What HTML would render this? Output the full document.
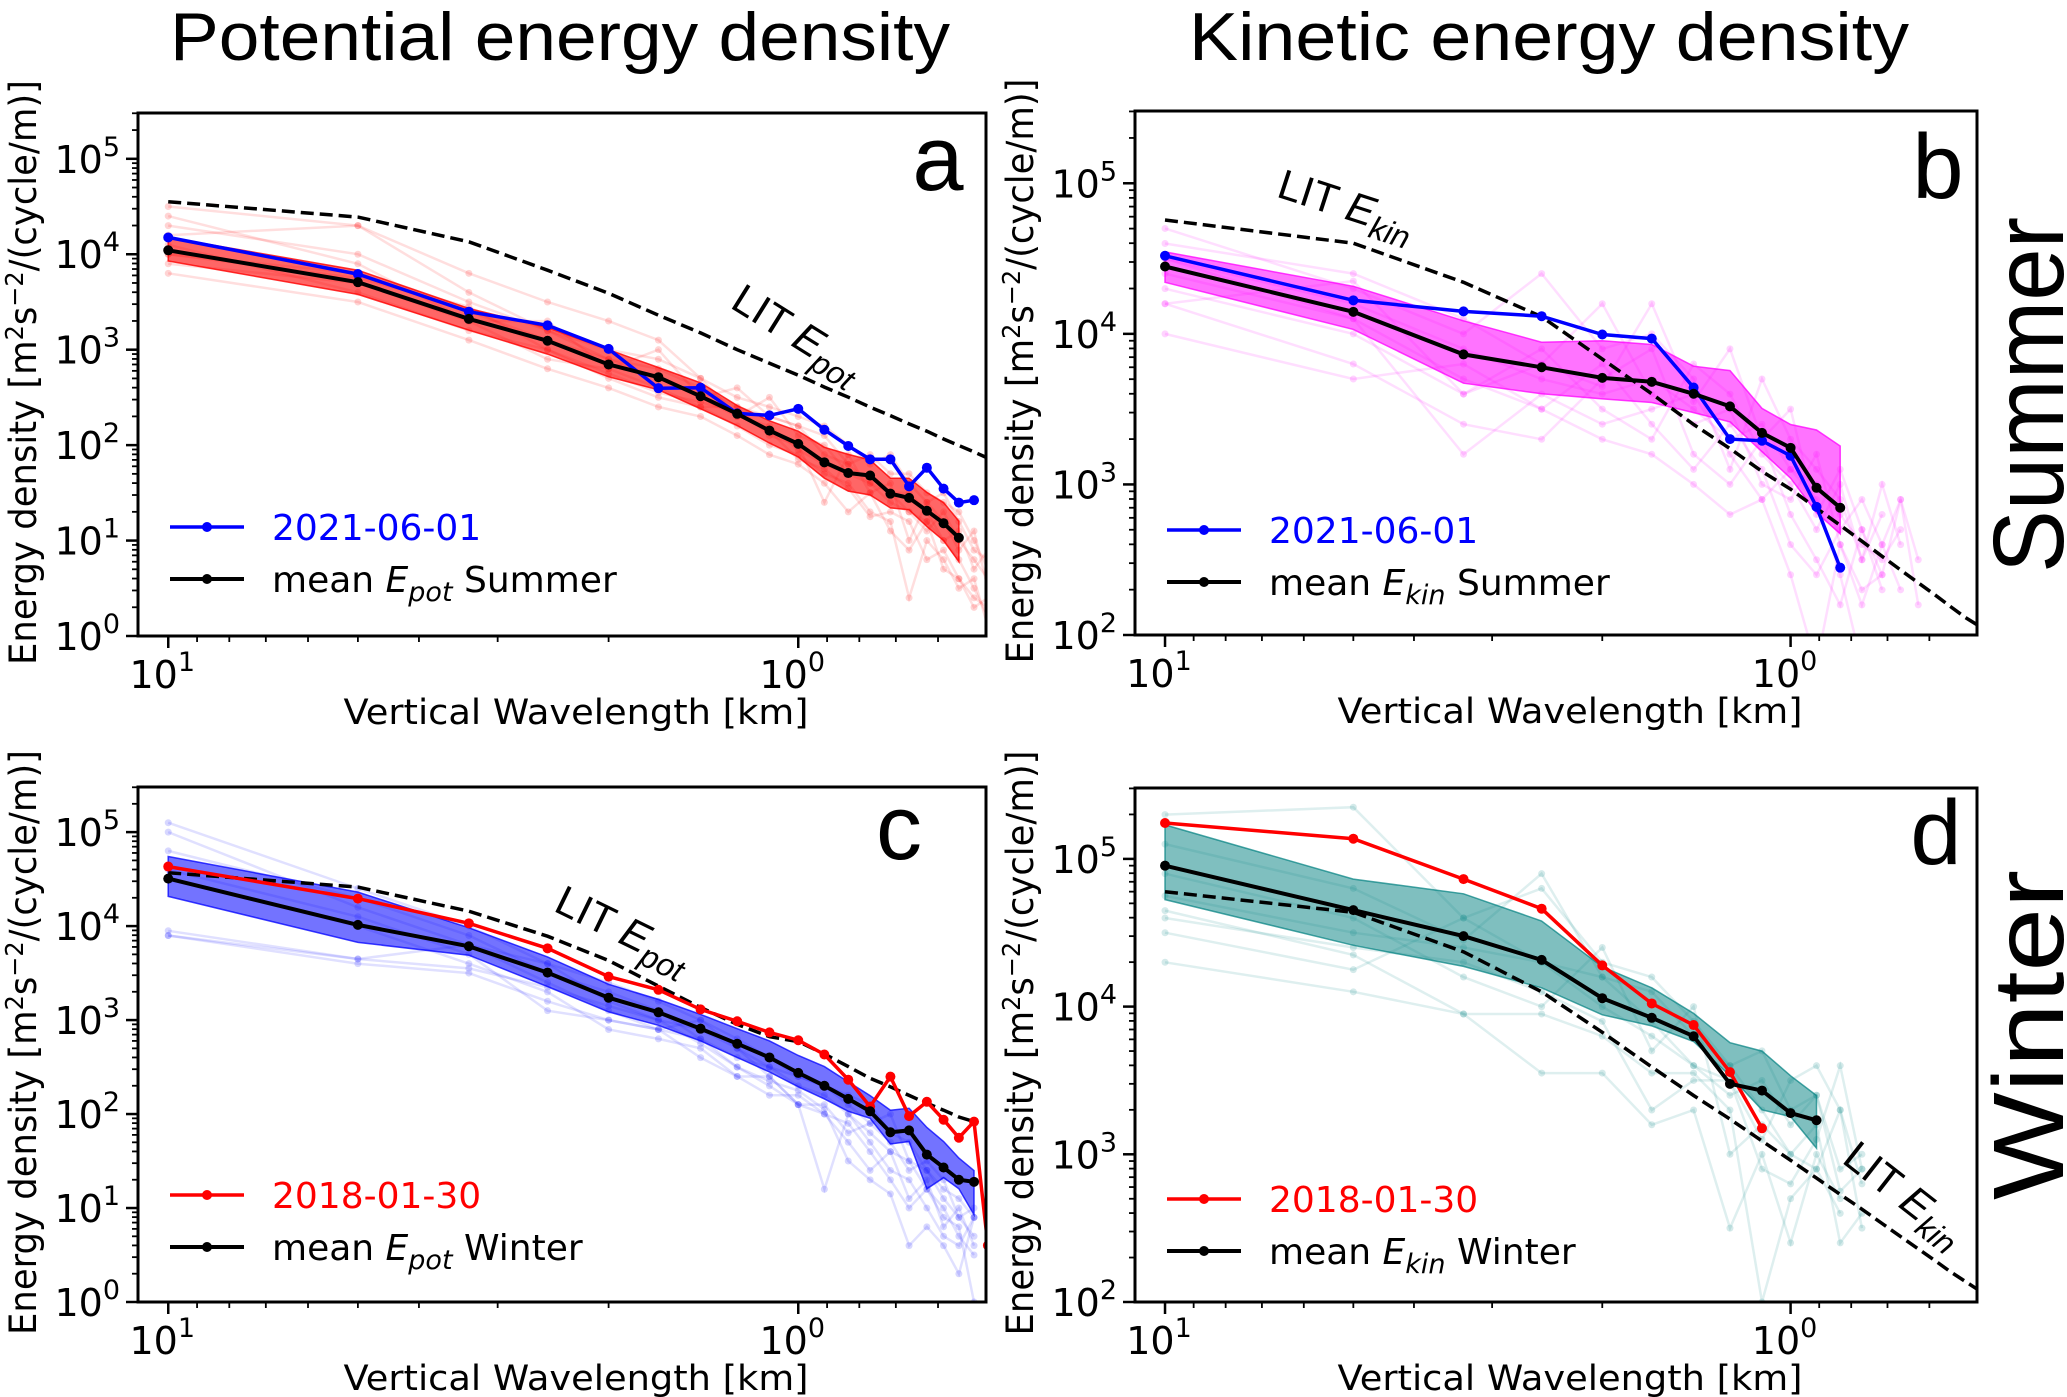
<!DOCTYPE html>
<html><head><meta charset="utf-8">
<style>
html,body{margin:0;padding:0;background:#fff;}
svg{display:block;}
text{font-family:"DejaVu Sans","Liberation Sans",sans-serif;}
</style></head>
<body>
<svg id="fig" width="2067" height="1397" viewBox="0 0 2067 1397" xmlns="http://www.w3.org/2000/svg">
<text x="560" y="60" font-size="68" text-anchor="middle" style="font-family:'Liberation Sans',sans-serif" textLength="780" lengthAdjust="spacingAndGlyphs">Potential energy density</text>
<text x="1549" y="60" font-size="68" text-anchor="middle" style="font-family:'Liberation Sans',sans-serif" textLength="720" lengthAdjust="spacingAndGlyphs">Kinetic energy density</text>
<text x="0" y="0" font-size="100" text-anchor="middle" style="font-family:'Liberation Sans',sans-serif" transform="translate(2063,395) rotate(-90)" textLength="356" lengthAdjust="spacingAndGlyphs">Summer</text>
<text x="0" y="0" font-size="100" text-anchor="middle" style="font-family:'Liberation Sans',sans-serif" transform="translate(2063,1035) rotate(-90)" textLength="330" lengthAdjust="spacingAndGlyphs">Winter</text>
<g id="panels"></g>
</svg>
<script>
// x categories: vertical wavelength in km (10/n)
const wavelengthsA = [10,5,3.333,2.5,2,1.667,1.429,1.25,1.111,1,0.909,0.833,0.769,0.714,0.667,0.625,0.588,0.556,0.526,0.5];

// Panel a (Summer Epot)
const meanA = [11000,5100,2100,1240,700,515,325,213,142,103,66,51,48,31,28,20.5,15.2,10.7];
const blueA = [15000,6200,2500,1800,1020,395,400,215,205,240,145,98,71,71,37,58,35,25,26.5];
const upperA = [15000,6800,2700,1700,1000,650,450,260,180,140,95,80,70,45,45,32,25,16];
const lowerA = [8500,3800,1600,900,520,380,240,160,105,75,45,33,30,22,21,14,10,6];
const litA = [35500,24500,13500,6800,3900,2300,1500,1000,720,540,405,318,250,204,167,140,116,99,85,73];
const faintA = [
 [4.3,4.0,3.5,3.2,2.9,2.8,2.6,2.4,2.3,2.2,1.9,1.8,1.6,1.5,1.3,1.2,1.0,0.8,0.5,0.2],
 [3.8,3.5,3.1,2.8,2.6,2.4,2.3,2.1,1.9,1.8,1.6,1.3,1.5,1.1,0.9,1.2,0.7,0.6,0.4,0.3],
 [4.5,4.3,3.8,3.5,3.3,3.1,2.7,2.5,2.4,2.3,2.2,2.0,1.8,1.9,1.6,1.4,1.5,1.2,0.9,0.8],
 [4.1,3.6,3.2,3.0,2.7,2.5,2.4,2.2,2.0,1.9,1.7,1.6,1.3,1.2,0.4,1.0,0.8,0.5,0.6,0.1],
 [4.0,3.8,3.4,3.1,2.9,2.7,2.5,2.3,2.2,1.95,1.8,1.7,1.6,1.4,1.3,1.1,1.3,1.0,0.8,0.6],
 [3.9,3.7,3.3,2.9,2.8,2.6,2.4,2.4,2.1,2.0,1.4,1.9,1.5,1.6,1.0,1.4,1.2,0.9,1.1,0.5],
 [4.2,4.3,3.6,3.2,3.0,2.9,2.7,2.3,2.5,2.1,2.0,1.7,1.7,1.5,1.5,1.3,1.0,1.1,0.7,0.9],
 [4.4,3.9,3.3,3.3,2.8,3.0,2.5,2.6,2.3,2.2,2.1,1.8,1.9,1.7,1.7,1.5,1.4,1.3,1.0,0.7],
 [4.0,3.75,3.45,3.0,2.75,2.55,2.45,2.35,2.15,1.85,1.75,1.55,1.25,1.3,1.2,0.8,0.9,0.6,0.3,0.4]
];

// Panel b (Summer Ekin)
const meanB = [28000,14000,7300,6000,5100,4800,4000,3300,2200,1750,950,700];
const blueB = [33000,16700,14100,13100,9900,9300,4400,2000,1950,1550,710,280];
const upperB = [35000,20700,12200,8800,9000,8500,6100,5700,3200,2500,2300,1800];
const lowerB = [22000,10700,4700,4000,3700,3500,3000,2600,1650,1100,650,470];
const litB = [57000,40000,22000,13000,6800,4000,2500,1730,1220,930,695,535,420,333,270,222,185,155,131,115];
const faintB = [
 [4.5,4.2,3.9,3.7,3.6,3.7,3.5,3.3,3.4,3.1,3.0,2.8,2.6,2.5,2.7],
 [4.3,4.0,3.6,3.9,3.5,3.3,3.8,3.6,3.2,3.0,2.7,3.0,2.5,2.8],
 [4.6,4.4,4.1,3.8,4.2,3.6,3.4,3.5,3.0,2.9,3.2,2.6,2.3,2.4],
 [4.2,3.8,3.4,3.3,3.7,3.9,3.2,3.0,3.3,2.8,2.5,2.2,2.7,2.3],
 [4.4,4.1,3.2,3.6,3.4,3.5,3.6,3.2,2.9,3.1,2.9,2.4,1.8],
 [4.0,3.7,3.8,3.5,3.8,3.4,3.1,3.4,3.1,2.6,2.4,2.7,2.9,2.6,2.3],
 [4.7,4.3,4.0,4.4,3.9,4.0,3.7,3.1,3.7,3.3,3.1,2.9,2.5,3.0,2.6],
 [4.5,4.1,3.7,3.5,3.3,3.2,3.0,2.8,2.9,2.4,1.8,2.6,2.2,2.6,2.9,2.5],
 [4.2,4.35,3.6,3.8,3.65,4.2,3.55,3.9,3.3,3.5,2.8,3.1,2.7,2.4,2.9,2.2]
];

// Panel c (Winter Epot)
const meanC = [32000,10300,6100,3200,1730,1210,810,560,400,274,200,145,107,64,67,37,27,20,19];
const redC = [43000,19600,10700,5800,2900,2100,1300,970,740,610,430,232,120,250,95,135,87,56,83,4];
const upperC = [55000,23000,9600,4700,2400,1660,1150,810,600,420,320,220,157,110,115,72,51,34,25];
const lowerC = [20700,6700,4900,2270,1220,880,600,400,280,195,145,107,90,48,51,16,21,16,8.5];
const litC = [37000,26000,14400,7800,4300,2300,1360,900,665,590,435,320,240,195,158,130,110,93,83];
const faintC = [
 [5.1,4.4,4.0,3.6,3.2,3.0,2.9,2.7,2.5,2.3,2.2,2.0,1.8,1.6,1.5,1.2,1.0,0.7,0.5],
 [3.95,3.65,3.8,3.4,3.1,2.9,2.6,2.4,2.4,2.1,1.2,2.0,1.7,1.4,1.3,1.0,0.7,0.6,0.9],
 [4.8,4.3,3.9,3.5,3.3,3.1,2.8,2.6,2.5,2.4,2.3,2.1,1.9,2.0,1.5,1.4,1.2,1.1,0.9],
 [4.5,4.0,3.6,3.3,2.9,2.8,2.7,2.4,2.2,2.2,2.0,1.9,1.6,1.3,1.0,1.2,0.9,0.8,0.0],
 [4.6,4.1,3.7,3.1,3.0,2.9,3.0,2.7,2.4,2.1,2.1,1.8,1.9,1.7,1.4,1.5,1.3,0.9,0.7],
 [3.9,3.6,3.5,3.2,3.0,2.9,2.8,2.5,2.3,2.1,2.0,1.7,1.4,1.6,1.1,1.3,0.8,1.0,0.6],
 [5.0,4.2,3.8,3.6,3.4,3.2,3.0,2.8,2.6,2.4,2.3,2.2,2.1,1.8,1.7,1.4,1.1,0.9,1.0],
 [3.9,3.65,3.55,3.35,3.15,3.0,2.75,2.5,2.35,2.25,2.05,1.5,1.3,1.15,0.6,0.8,0.6,0.3,0.9]
];

// Panel d (Winter Ekin)
const meanD = [90000,45000,30000,20700,11400,8400,6300,3000,2700,1900,1700];
const redD = [175000,137000,73000,46000,19000,10500,7500,3600,1500];
const upperD = [170000,73000,58000,38000,18600,13400,9000,5700,5000,3400,2500];
const lowerD = [53000,26000,18700,13400,8800,7400,5800,3400,2000,1800,1100];
const litD = [60000,43500,23500,12600,6700,3900,2500,1730,1230,910,690,535,425,340,277,229,191,161,138,120];
const faintD = [
 [5.3,5.35,4.6,4.8,4.3,4.2,3.9,3.6,3.7,3.3,3.4,2.9,3.0],
 [4.5,4.25,4.6,4.3,4.0,3.8,3.6,3.5,3.1,3.5,3.6,3.3,2.8],
 [4.9,4.6,4.2,4.0,4.4,3.7,4.0,3.0,3.2,3.0,3.2,2.4,2.6],
 [4.3,4.1,3.95,3.55,3.55,3.2,3.3,2.5,3.0,2.4,3.0,2.7],
 [5.1,4.8,4.45,4.9,4.2,3.9,3.6,3.4,3.5,3.2,3.4,2.75,2.9],
 [4.6,4.4,4.3,4.1,3.9,3.3,3.5,3.5,2.9,2.8,3.1,3.6,2.9],
 [4.75,4.5,4.4,4.3,4.2,4.1,3.8,3.6,3.3,3.0,2.9,3.3,2.5],
 [4.65,4.35,3.95,3.95,3.8,3.55,3.55,3.3,2.0,2.7,2.9,2.6]
];

const yTickLabelsA = ['0','1','2','3','4','5'];
const yTickLabelsB = ['2','3','4','5'];
const xTickExps = [1,0];

const NS = 'http://www.w3.org/2000/svg';
const root = document.getElementById('panels');
function mk(tag, attrs, parent){
  const e = document.createElementNS(NS, tag);
  for (const k in attrs) e.setAttribute(k, attrs[k]);
  (parent||root).appendChild(e);
  return e;
}

function drawPanel(cfg){
  const {id,l,r,t,b,ymin,ymax,color,bandColor,bandOp,faintOp,mean,hl,hlColor,upper,lower,lit,faint,hlLabel,meanLabel,letter,letterX,letterY,litSub,litX,litY,litRot,yticks,legY} = cfg;
  const xmax = 1.048, xmin = -0.298;
  const X = lam => l + (xmax - Math.log10(lam)) / (xmax - xmin) * (r - l);
  const Y = v => b - (Math.log10(v) - ymin) / (ymax - ymin) * (b - t);
  const YL = lv => b - (lv - ymin) / (ymax - ymin) * (b - t);
  const g = mk('g', {});
  
  
  const defs = mk('defs', {}, g);
  const cp = mk('clipPath', {id: 'clip-' + id}, defs);
  mk('rect', {x: l, y: t, width: r - l, height: b - t}, cp);
  const plot = mk('g', {'clip-path': 'url(#clip-' + id + ')'}, g);

  faint.forEach((arr, i) => {
    const pts = arr.map((lv, j) => X(wavelengthsA[j]).toFixed(1) + ',' + YL(lv).toFixed(1)).join(' ');
    const pl = mk('polyline', {points: pts, fill: 'none', stroke: color, 'stroke-width': 2.5, 'stroke-opacity': faintOp}, plot);
    
    
    arr.forEach((lv, j) => {
      mk('circle', {cx: X(wavelengthsA[j]), cy: YL(lv), r: 3.5, fill: color, 'fill-opacity': faintOp * 1.3}, plot);
    });
  });
  let d = '';
  upper.forEach((v, j) => { d += (j ? 'L' : 'M') + X(wavelengthsA[j]).toFixed(1) + ',' + Y(v).toFixed(1); });
  for (let j = lower.length - 1; j >= 0; j--) d += 'L' + X(wavelengthsA[j]).toFixed(1) + ',' + Y(lower[j]).toFixed(1);
  const band = mk('path', {d: d + 'Z', fill: bandColor, 'fill-opacity': bandOp, stroke: bandColor, 'stroke-opacity': Math.min(1, bandOp + 0.2), 'stroke-width': 1.5}, plot);
  
  
  const litPts = lit.map((v, j) => X(wavelengthsA[j]).toFixed(1) + ',' + Y(v).toFixed(1)).join(' ');
  const litLine = mk('polyline', {points: litPts, fill: 'none', stroke: '#000', 'stroke-width': 3.5, 'stroke-dasharray': '13,6'}, plot);
  
  
  const hpts = hl.map((v, j) => X(wavelengthsA[j]).toFixed(1) + ',' + Y(v).toFixed(1)).join(' ');
  const hline = mk('polyline', {points: hpts, fill: 'none', stroke: hlColor, 'stroke-width': 3.5}, plot);
  
  
  hl.forEach((v, j) => {
    const c = mk('circle', {cx: X(wavelengthsA[j]), cy: Y(v), r: 5, fill: hlColor}, plot);
    
    
  });
  const mpts = mean.map((v, j) => X(wavelengthsA[j]).toFixed(1) + ',' + Y(v).toFixed(1)).join(' ');
  const mline = mk('polyline', {points: mpts, fill: 'none', stroke: '#000', 'stroke-width': 4}, plot);
  
  
  mean.forEach((v, j) => {
    const c = mk('circle', {cx: X(wavelengthsA[j]), cy: Y(v), r: 5, fill: '#000'}, plot);
    
    
  });

  const fr = mk('rect', {x: l, y: t, width: r - l, height: b - t, fill: 'none', stroke: '#000', 'stroke-width': 3}, g);
  
  

  yticks.forEach(e => {
    const ev = Number(e);
    const yy = YL(ev);
    mk('line', {x1: l - 12, x2: l, y1: yy, y2: yy, stroke: '#000', 'stroke-width': 2.5}, g);
    const tx = mk('text', {x: l - 18, y: yy + 14, 'font-size': 38, 'text-anchor': 'end'}, g);
    
    
    tx.textContent = '10';
    const sp = mk('tspan', {dy: -17, 'font-size': 27}, tx);
    sp.textContent = e;
  });
  for (let dec = Math.floor(ymin); dec < Math.ceil(ymax); dec++) {
    for (let m = 2; m <= 9; m++) {
      const lv = dec + Math.log10(m);
      if (lv < ymin || lv > ymax) continue;
      const yy = YL(lv);
      mk('line', {x1: l - 6, x2: l, y1: yy, y2: yy, stroke: '#000', 'stroke-width': 1.8}, g);
    }
  }
  xTickExps.forEach(e => {
    const xx = X(Math.pow(10, e));
    mk('line', {x1: xx, x2: xx, y1: b, y2: b + 12, stroke: '#000', 'stroke-width': 2.5}, g);
    const tx = mk('text', {x: xx - 6, y: b + 52, 'font-size': 38, 'text-anchor': 'middle'}, g);
    
    
    tx.textContent = '10';
    const sp = mk('tspan', {dy: -17, 'font-size': 27}, tx);
    sp.textContent = String(e);
  });
  [9,8,7,6,5,4,3,2,0.9,0.8,0.7,0.6,0.5].forEach(lam => {
    const xx = X(lam);
    if (xx < l || xx > r + 1) return;
    mk('line', {x1: xx, x2: xx, y1: b, y2: b + 6, stroke: '#000', 'stroke-width': 1.8}, g);
  });
  const xl = mk('text', {x: (l + r) / 2 + 14, y: b + 88, 'font-size': 35, 'text-anchor': 'middle', textLength: 465, lengthAdjust: 'spacingAndGlyphs'}, g);
  
  
  xl.textContent = 'Vertical Wavelength [km]';
  const yl = mk('text', {x: 0, y: 0, 'font-size': 37, 'text-anchor': 'middle', textLength: 585, lengthAdjust: 'spacingAndGlyphs', transform: 'translate(' + (l - 102) + ',' + ((t + b) / 2 - 2) + ') rotate(-90)'}, g);
  
  
  yl.textContent = 'Energy density [m';
  let s = mk('tspan', {dy: -13, 'font-size': 25}, yl); s.textContent = '2';
  s = mk('tspan', {dy: 13}, yl); s.textContent = 's';
  s = mk('tspan', {dy: -13, 'font-size': 25}, yl); s.textContent = '\u22122';
  s = mk('tspan', {dy: 13}, yl); s.textContent = '/(cycle/m)]';

  const lt = mk('text', {x: letterX, y: letterY, 'font-size': 92, 'text-anchor': 'middle', style: "font-family:'Liberation Sans',sans-serif"}, g);
  
  
  lt.textContent = letter;

  const ll = mk('text', {x: 0, y: 0, 'font-size': 42, 'text-anchor': 'middle', style: "font-family:'Liberation Sans',sans-serif", transform: 'translate(' + litX + ',' + litY + ') rotate(' + litRot + ')'}, g);
  
  
  ll.textContent = 'LIT ';
  s = mk('tspan', {'font-style': 'italic'}, ll); s.textContent = 'E';
  s = mk('tspan', {'font-style': 'italic', dy: 10, 'font-size': 32}, ll); s.textContent = litSub;

  const lx1 = l + 32, lx2 = l + 106, tx0 = l + 134;
  const lg = mk('g', {}, g);
  
  
  mk('line', {x1: lx1, x2: lx2, y1: legY, y2: legY, stroke: hlColor, 'stroke-width': 3.5}, lg);
  mk('circle', {cx: (lx1 + lx2) / 2, cy: legY, r: 5, fill: hlColor}, lg);
  const t1 = mk('text', {x: tx0, y: legY + 13, 'font-size': 36, fill: hlColor}, lg);
  
  
  t1.textContent = hlLabel;
  mk('line', {x1: lx1, x2: lx2, y1: legY + 52, y2: legY + 52, stroke: '#000', 'stroke-width': 4}, lg);
  mk('circle', {cx: (lx1 + lx2) / 2, cy: legY + 52, r: 5, fill: '#000'}, lg);
  const t2 = mk('text', {x: tx0, y: legY + 65, 'font-size': 36, fill: '#000'}, lg);
  
  
  t2.textContent = 'mean ';
  s = mk('tspan', {'font-style': 'italic'}, t2); s.textContent = 'E';
  s = mk('tspan', {'font-style': 'italic', dy: 9, 'font-size': 27}, t2); s.textContent = meanLabel[0];
  s = mk('tspan', {dy: -9}, t2); s.textContent = ' ' + meanLabel[1];
}

drawPanel({id:'a', l:138, r:986, t:113, b:636, ymin:0, ymax:5.48, color:'#ff0000', bandColor:'#ff0000', bandOp:0.6, faintOp:0.13,
  mean:meanA, hl:blueA, hlColor:'#0000ff', upper:upperA, lower:lowerA, lit:litA, faint:faintA,
  hlLabel:'2021-06-01', meanLabel:['pot','Summer'], letter:'a', letterX:938, letterY:190,
  litSub:'pot', litX:790, litY:345, litRot:32, yticks:yTickLabelsA, legY:527});
drawPanel({id:'b', l:1135, r:1977, t:111, b:635, ymin:2, ymax:5.48, color:'#ff00ff', bandColor:'#ff00ff', bandOp:0.55, faintOp:0.13,
  mean:meanB, hl:blueB, hlColor:'#0000ff', upper:upperB, lower:lowerB, lit:litB, faint:faintB,
  hlLabel:'2021-06-01', meanLabel:['kin','Summer'], letter:'b', letterX:1938, letterY:198,
  litSub:'kin', litX:1342, litY:218, litRot:18, yticks:yTickLabelsB, legY:530});
drawPanel({id:'c', l:138, r:986, t:787, b:1302, ymin:0, ymax:5.48, color:'#0000ff', bandColor:'#0000ff', bandOp:0.55, faintOp:0.12,
  mean:meanC, hl:redC, hlColor:'#ff0000', upper:upperC, lower:lowerC, lit:litC, faint:faintC,
  hlLabel:'2018-01-30', meanLabel:['pot','Winter'], letter:'c', letterX:899, letterY:859,
  litSub:'pot', litX:617, litY:942, litRot:26, yticks:yTickLabelsA, legY:1195});
drawPanel({id:'d', l:1135, r:1977, t:788, b:1302, ymin:2, ymax:5.48, color:'#008080', bandColor:'#008080', bandOp:0.5, faintOp:0.13,
  mean:meanD, hl:redD, hlColor:'#ff0000', upper:upperD, lower:lowerD, lit:litD, faint:faintD,
  hlLabel:'2018-01-30', meanLabel:['kin','Winter'], letter:'d', letterX:1936, letterY:864,
  litSub:'kin', litX:1896, litY:1205, litRot:38, yticks:yTickLabelsB, legY:1199});
</script>
</body></html>
